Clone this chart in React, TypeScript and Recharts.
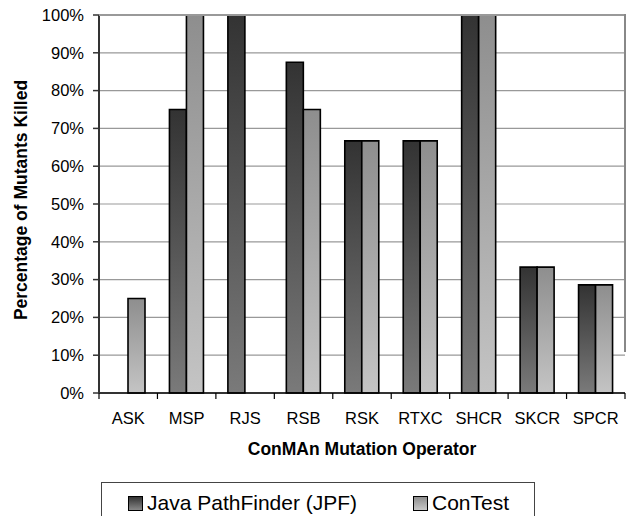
import React from 'react';
import { BarChart, Bar, XAxis, YAxis, CartesianGrid, Label } from 'recharts';

const categories = ['ASK', 'MSP', 'RJS', 'RSB', 'RSK', 'RTXC', 'SHCR', 'SKCR', 'SPCR'];
const jpfValues = [0, 75, 100, 87.5, 66.7, 66.7, 100, 33.3, 28.6];
const contestValues = [25, 100, 0, 75, 66.7, 66.7, 100, 33.3, 28.6];
const yTicks = [0, 10, 20, 30, 40, 50, 60, 70, 80, 90, 100];
const seriesNames = ['Java PathFinder (JPF)', 'ConTest'];

const data = categories.map((c, i) => ({ name: c, jpf: jpfValues[i], contest: contestValues[i] }));

const W = 629;
const H = 516;
const LEFT = 99;
const RIGHT_MARGIN = 4;
const TOP = 15;
const BOTTOM = 393;
const HALF_BAND = (W - LEFT - RIGHT_MARGIN) / categories.length / 2;
const FONT = 'Arial, "Liberation Sans", sans-serif';

const XTick = (props: any) => {
  const { x, y, payload, index } = props;
  const last = index === categories.length - 1;
  return (
    <g>
      <line x1={x - HALF_BAND} y1={y} x2={x - HALF_BAND} y2={y + 6} stroke="#000" strokeWidth={1.2} />
      {last && <line x1={x + HALF_BAND} y1={y} x2={x + HALF_BAND} y2={y + 6} stroke="#000" strokeWidth={1.2} />}
      <text x={x} y={y + 19} dy="0.71em" textAnchor="middle" fontSize={16.5} fontFamily={FONT} fill="#000">
        {payload.value}
      </text>
    </g>
  );
};

export default function App() {
  return (
    <div style={{ position: 'absolute', left: 0, top: 0, width: W, height: H, overflow: 'hidden', background: '#fff' }}>
      <BarChart
        width={W}
        height={H}
        data={data}
        margin={{ top: TOP, right: RIGHT_MARGIN, left: 0, bottom: H - BOTTOM - 40 }}
        barGap={0}
        barSize={17}
      >
        <defs>
          <linearGradient id="gJpf" x1="0" y1="0" x2="0" y2="1">
            <stop offset="0%" stopColor="#333333" />
            <stop offset="100%" stopColor="#7a7a7a" />
          </linearGradient>
          <linearGradient id="gCon" x1="0" y1="0" x2="0" y2="1">
            <stop offset="0%" stopColor="#8e8e8e" />
            <stop offset="100%" stopColor="#c4c4c4" />
          </linearGradient>
        </defs>
        <CartesianGrid vertical={false} stroke="#999" strokeWidth={1.2} />
        <XAxis
          dataKey="name"
          height={40}
          tickSize={0}
          tickMargin={0}
          tick={<XTick />}
          axisLine={{ stroke: '#000', strokeWidth: 1.5 }}
          interval={0}
        >
          <Label
            content={() => (
              <text x={(LEFT + W - RIGHT_MARGIN) / 2} y={455} textAnchor="middle" fontSize={17.5} fontWeight="bold" fontFamily={FONT} fill="#000">
                ConMAn Mutation Operator
              </text>
            )}
          />
        </XAxis>
        <YAxis
          width={LEFT}
          domain={[0, 100]}
          ticks={yTicks}
          interval={0}
          tickFormatter={(v: number) => `${v}%`}
          tickSize={6}
          tickMargin={9}
          tick={{ fontSize: 16.5, fontFamily: FONT, fill: '#000' }}
          tickLine={{ stroke: '#333', strokeWidth: 1.5 }}
          axisLine={{ stroke: '#333', strokeWidth: 2 }}
        >
          <Label
            content={() => (
              <text
                x={21}
                y={200}
                transform="rotate(-90 21 200)"
                textAnchor="middle"
                dominantBaseline="central"
                fontSize={17.5}
                fontWeight="bold"
                fontFamily={FONT}
                fill="#000"
              >
                Percentage of Mutants Killed
              </text>
            )}
          />
        </YAxis>
        <Bar dataKey="jpf" name={seriesNames[0]} fill="url(#gJpf)" stroke="#000" strokeWidth={1.6} isAnimationActive={false} />
        <Bar dataKey="contest" name={seriesNames[1]} fill="url(#gCon)" stroke="#000" strokeWidth={1.6} isAnimationActive={false} />
      </BarChart>
      <div style={{ position: 'absolute', left: LEFT, top: TOP - 1, width: W - LEFT - RIGHT_MARGIN + 1, height: 2, background: '#999' }} />
      <div style={{ position: 'absolute', left: W - RIGHT_MARGIN - 1, top: TOP - 1, width: 2, height: 338, background: '#888' }} />
      <div
        style={{
          position: 'absolute',
          left: 101,
          top: 482,
          width: 434,
          height: 60,
          border: '1.5px solid #444',
          boxSizing: 'border-box',
          fontFamily: FONT,
          fontSize: 21,
          color: '#000',
        }}
      >
        {[0, 1].map((i) => (
          <div key={i} style={{ position: 'absolute', left: i === 0 ? 26 : 311, top: 8, display: 'flex', alignItems: 'center', whiteSpace: 'nowrap', lineHeight: '24px' }}>
            <span
              style={{
                display: 'inline-block',
                width: 15,
                height: 15,
                border: '1.5px solid #000',
                boxSizing: 'border-box',
                background: i === 0 ? 'linear-gradient(#333, #888)' : 'linear-gradient(#8e8e8e, #c8c8c8)',
                marginRight: 4,
              }}
            />
            <span>{seriesNames[i]}</span>
          </div>
        ))}
      </div>
    </div>
  );
}
